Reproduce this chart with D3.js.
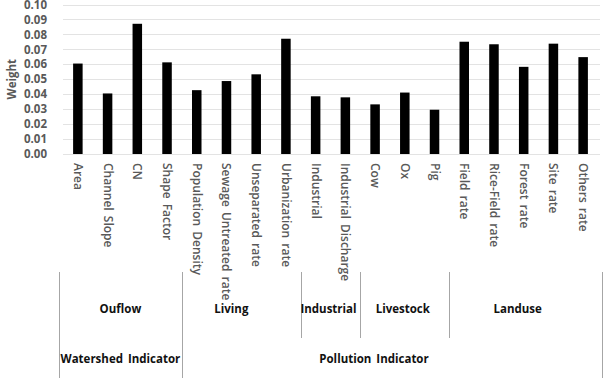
<!DOCTYPE html>
<html>
<head>
<meta charset="utf-8">
<script src="https://cdn.jsdelivr.net/npm/d3@7"></script>
<style>
  html, body { margin: 0; padding: 0; background: #fff; }
  svg { display: block; font-family: "Open Sans", "Noto Sans", sans-serif; }
</style>
</head>
<body>
<svg id="chart" width="603" height="383"></svg>
<script>
// Weights per indicator
const categories = [
    'Area', 'Channel Slope', 'CN', 'Shape Factor',
    'Population Density', 'Sewage Untreated rate', 'Unseparated rate', 'Urbanization rate',
    'Industrial', 'Industrial Discharge',
    'Cow', 'Ox', 'Pig',
    'Field rate', 'Rice-Field rate', 'Forest rate', 'Site rate', 'Others rate'
];
const weights = [
    0.0605, 0.0405, 0.0871, 0.0613,
    0.0427, 0.0488, 0.0533, 0.0771,
    0.0386, 0.0379,
    0.0332, 0.0411, 0.0296,
    0.0751, 0.0734, 0.0583, 0.0738, 0.0648
];
const yTicks = [0, 0.01, 0.02, 0.03, 0.04, 0.05, 0.06, 0.07, 0.08, 0.09, 0.10];

// sub groups (first..last category index) and the two top-level groups
const subGroups = [
    { name: 'Ouflow', from: 0, to: 3 },
    { name: 'Living', from: 4, to: 7 },
    { name: 'Industrial', from: 8, to: 9 },
    { name: 'Livestock', from: 10, to: 12 },
    { name: 'Landuse', from: 13, to: 17 }
];
const mainGroups = [
    { name: 'Watershed Indicator', from: 0, to: 3 },
    { name: 'Pollution Indicator', from: 4, to: 17 }
];

const svg = d3.select('#chart');
const plot = { left: 63, right: 598, top: 4.5, bottom: 154 };

const x = d3.scaleBand()
    .domain(categories)
    .range([plot.left, plot.right])
    .paddingInner(0.68)
    .paddingOuter(0.34);

const y = d3.scaleLinear()
    .domain([0, 0.10])
    .range([plot.bottom, plot.top]);

// Gridlines
svg.append('g')
    .selectAll('line')
    .data(yTicks)
    .join('line')
    .attr('x1', plot.left)
    .attr('x2', plot.right + 2)
    .attr('y1', d => Math.round(y(d)) + 0.5)
    .attr('y2', d => Math.round(y(d)) + 0.5)
    .attr('stroke', '#e3e3e3')
    .attr('stroke-width', 1);

// Y axis labels
const yAxis = d3.axisLeft(y)
    .tickValues(yTicks)
    .tickFormat(d3.format('.2f'))
    .tickSize(0)
    .tickPadding(16);

svg.append('g')
    .attr('transform', `translate(${plot.left},0)`)
    .call(yAxis)
    .call(g => g.select('.domain').remove())
    .selectAll('text')
    .attr('font-family', '"Open Sans", sans-serif')
    .attr('font-size', '11.5px')
    .attr('font-weight', 'bold')
    .attr('fill', '#595959');

svg.append('text')
    .attr('transform', `translate(16,${(plot.top + plot.bottom) / 2}) rotate(-90)`)
    .attr('text-anchor', 'middle')
    .attr('font-size', '11.5px')
    .attr('font-weight', 'bold')
    .attr('fill', '#595959')
    .text('Weight');

// Bars
svg.append('g')
    .selectAll('rect')
    .data(categories)
    .join('rect')
    .attr('x', d => x(d))
    .attr('width', x.bandwidth())
    .attr('y', (d, i) => y(weights[i]))
    .attr('height', (d, i) => y(0) - y(weights[i]))
    .attr('fill', '#000');

// X labels, rotated to read top-to-bottom
const xAxis = d3.axisBottom(x).tickSize(0).tickPadding(0);
svg.append('g')
    .attr('transform', `translate(0,${plot.bottom})`)
    .call(xAxis)
    .call(g => g.select('.domain').remove())
    .selectAll('text')
    .attr('font-family', '"Open Sans", sans-serif')
    .attr('font-size', '12px')
    .attr('font-weight', 600)
    .attr('word-spacing', '2px')
    .attr('fill', '#595959')
    .attr('text-anchor', 'start')
    .attr('dy', null)
    .attr('y', 0)
    .attr('transform', 'translate(-4,9) rotate(90)');

// Category table below the axis
const tableTop = 272, subBottom = 338, tableBottom = 378;
const edge = i => x(categories[i]) - x.step() * x.paddingInner() / 2;
const edgeRight = i => x(categories[i]) + x.bandwidth() + x.step() * x.paddingInner() / 2;

const boundaries = [];
subGroups.forEach((g, k) => {
    const isMain = mainGroups.some(m => m.from === g.from);
    boundaries.push({ x: k === 0 ? plot.left - 4 : edge(g.from), long: isMain });
});
boundaries.push({ x: plot.right + 4, long: true });

svg.append('g')
    .selectAll('line')
    .data(boundaries)
    .join('line')
    .attr('x1', d => Math.round(d.x) + 0.5)
    .attr('x2', d => Math.round(d.x) + 0.5)
    .attr('y1', tableTop)
    .attr('y2', d => d.long ? tableBottom : subBottom)
    .attr('stroke', '#a6a6a6')
    .attr('stroke-width', 1);

const groupCenter = g => (edge(g.from) + edgeRight(g.to)) / 2;

svg.append('g')
    .selectAll('text')
    .data(subGroups)
    .join('text')
    .attr('x', d => groupCenter(d) - (d.name === 'Living' ? 10 : d.name === 'Landuse' ? 6 : 2))
    .attr('y', 313)
    .attr('text-anchor', 'middle')
    .attr('font-size', '11.5px')
    .attr('font-weight', 'bold')
    .attr('fill', '#111')
    .text(d => d.name);

svg.append('g')
    .selectAll('text')
    .data(mainGroups)
    .join('text')
    .attr('x', (d, i) => i === 0 ? groupCenter(d) - 2 : 374)
    .attr('y', 363)
    .attr('text-anchor', 'middle')
    .attr('font-size', '11.5px')
    .attr('font-weight', 'bold')
    .attr('fill', '#111')
    .attr('word-spacing', '2px')
    .text(d => d.name);
</script>
</body>
</html>
